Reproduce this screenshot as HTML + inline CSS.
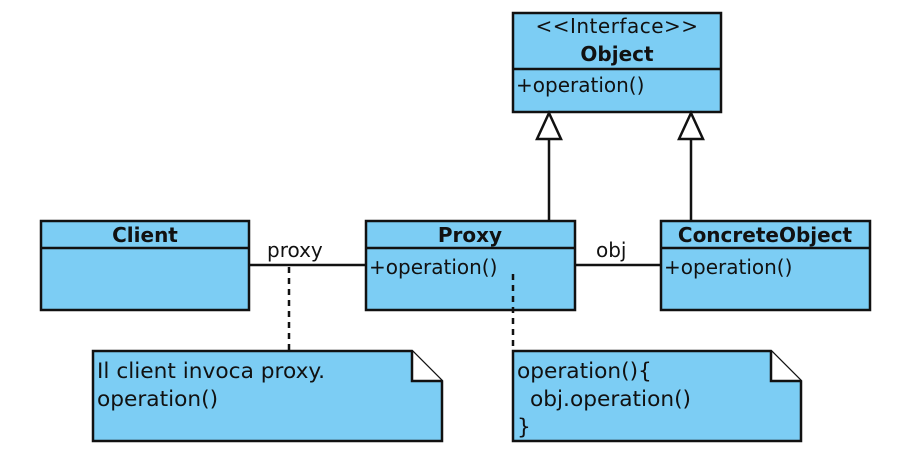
<!DOCTYPE html>
<html><head><meta charset="utf-8"><style>
html,body{margin:0;padding:0;background:#fff;}
svg{display:block;}
text{font-family:"DejaVu Sans","Liberation Sans",sans-serif;fill:#111;}
</style></head><body>
<svg width="906" height="464" viewBox="0 0 906 464" xmlns="http://www.w3.org/2000/svg">
<g stroke="#111" stroke-width="2.5" fill="#7ccdf4">
  <rect x="513" y="13" width="208" height="99"/>
  <line x1="513" y1="69" x2="721" y2="69"/>
  <rect x="41" y="221" width="208" height="89"/>
  <line x1="41" y1="248" x2="249" y2="248"/>
  <rect x="366" y="221" width="209" height="89"/>
  <line x1="366" y1="248" x2="575" y2="248"/>
  <rect x="661" y="221" width="209" height="89"/>
  <line x1="661" y1="248" x2="870" y2="248"/>
  <path d="M93 351 H412 L442 381 V441 H93 Z"/>
  <path d="M412 351 V381 H442" fill="#fff"/>
  <path d="M513 351 H771 L801 381 V441 H513 Z"/>
  <path d="M771 351 V381 H801" fill="#fff"/>
</g>
<g stroke="#111" stroke-width="2.5" fill="none">
  <line x1="249" y1="265" x2="366" y2="265"/>
  <line x1="575" y1="265" x2="661" y2="265"/>
  <line x1="549" y1="139" x2="549" y2="221"/>
  <line x1="691" y1="139" x2="691" y2="221"/>
  <path d="M549 113 L537 139 H561 Z" fill="#fff"/>
  <path d="M691 113 L679 139 H703 Z" fill="#fff"/>
  <line x1="289" y1="267" x2="289" y2="351" stroke-dasharray="6,5"/>
  <line x1="513" y1="274" x2="513" y2="351" stroke-dasharray="6,5"/>
</g>
<g font-size="20">
  <text x="617" y="33" text-anchor="middle" letter-spacing="0.5">&lt;&lt;Interface&gt;&gt;</text>
  <text x="617" y="61" text-anchor="middle" font-weight="bold">Object</text>
  <text x="516" y="92">+operation()</text>
  <text x="145" y="242" text-anchor="middle" font-weight="bold">Client</text>
  <text x="470" y="242" text-anchor="middle" font-weight="bold">Proxy</text>
  <text x="765" y="242" text-anchor="middle" font-weight="bold">ConcreteObject</text>
  <text x="369" y="274">+operation()</text>
  <text x="664" y="274">+operation()</text>
  <text x="267" y="257">proxy</text>
  <text x="596" y="257">obj</text>
</g>
<g font-size="21.7">
  <text x="97" y="378">Il client invoca proxy.</text>
  <text x="97" y="406">operation()</text>
  <text x="517" y="378">operation(){</text>
  <text x="530" y="406">obj.operation()</text>
  <text x="517" y="434">}</text>
</g>
</svg>
</body></html>
